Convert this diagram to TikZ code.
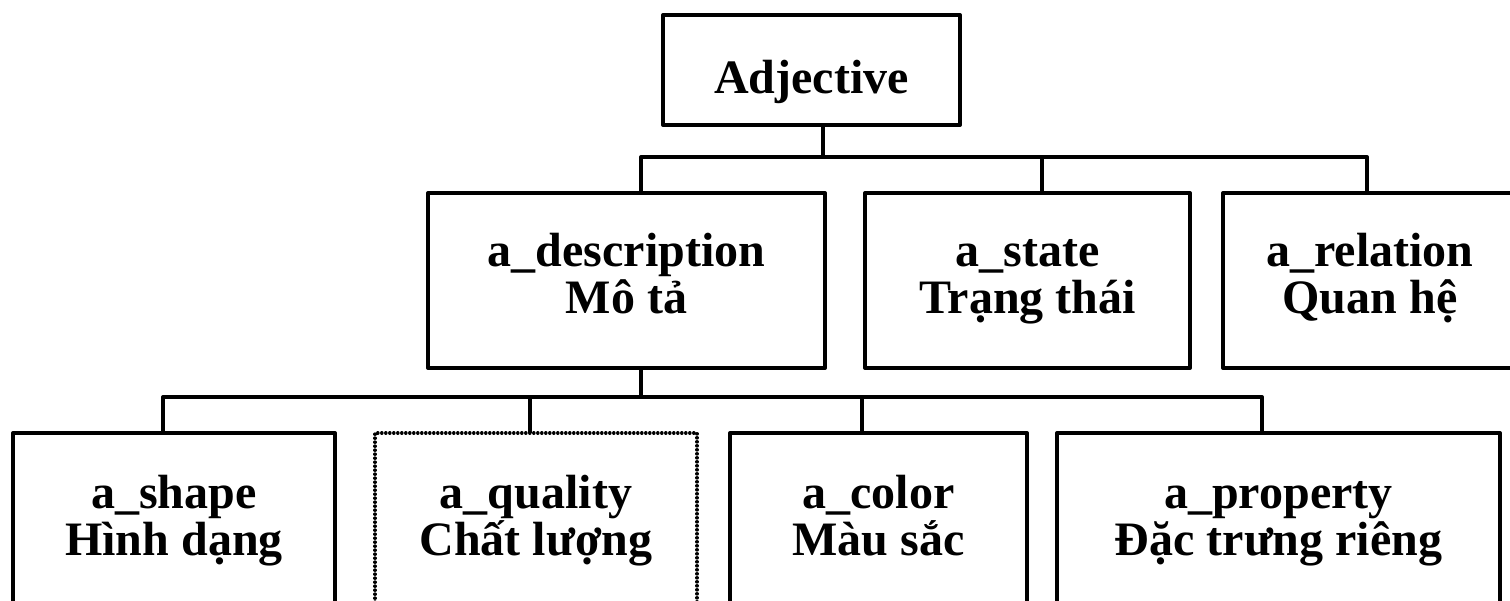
\documentclass[tikz,border=0pt]{standalone}
\usepackage{fontspec}
\setmainfont{Liberation Serif}
% two centred lines with a fixed distance between their baselines
\newcommand\twolines[2]{\vbox{\baselineskip=23.5pt\lineskiplimit=-50pt
  \halign{\hfil##\hfil\cr #1\cr #2\cr}}}
\tikzset{
  box/.style={draw, line width=2pt, rectangle, inner sep=0pt, outer sep=0pt,
    line join=round, text depth=6pt, text height=38.5pt,
    font=\fontsize{24}{23.5}\selectfont\bfseries},
  rootbox/.style={box, text height=29pt},
  lowbox/.style={box, text height=40.5pt},
  dotbox/.style={lowbox, dash pattern=on 0.2pt off 1.8pt, line cap=round, line width=1.6pt},
  conn/.style={line width=2pt, line join=round}
}
% style, name, x1, y1, x2, y2, text  (pixel-style units, y pointing down)
\newcommand\placebox[7]{%
  \node[#1, minimum width={(#5-#3)*0.5pt}, minimum height={(#6-#4)*0.5pt}]
    (#2) at ({(#3+#5)/2},{(#4+#6)/2}) {#7};}
\begin{document}
\begin{tikzpicture}[x=0.5pt, y=-0.5pt]
  \useasboundingbox (0,0) rectangle (1510,600);
  \clip (0,0) rectangle (1510,600);

  % root
  \placebox{rootbox}{adj}{663}{15}{960}{125}{Adjective}

  % first level
  \placebox{box}{desc}{428}{193}{825}{368}{\twolines{a\_description}{Mô tả}}
  \placebox{box}{state}{865}{193}{1190}{368}{\twolines{a\_state}{Trạng thái}}
  \placebox{box}{rel}{1223}{193}{1517}{368}{\twolines{a\_relation}{Quan hệ}}

  % second level
  \placebox{lowbox}{shape}{13}{433}{335}{608}{\twolines{a\_shape}{Hình dạng}}
  \placebox{dotbox}{qual}{375}{433}{697}{608}{\twolines{a\_quality}{Chất lượng}}
  \placebox{lowbox}{color}{730}{433}{1027}{608}{\twolines{a\_color}{Màu sắc}}
  \placebox{lowbox}{prop}{1057}{433}{1500}{608}{\twolines{a\_property}{Đặc trưng riêng}}

  % junctions of the upper bar
  \coordinate (u1) at (641,157);
  \coordinate (u2) at (823,157);
  \coordinate (u3) at (1042,157);
  \coordinate (u4) at (1367,157);
  \draw[conn] (adj.south -| u2) -- (u2);
  \draw[conn] (desc.north -| u1) -- (u1) -- (u4) -- (rel.north -| u4);
  \draw[conn] (state.north -| u3) -- (u3);

  % junctions of the lower bar
  \coordinate (l1) at (163,397);
  \coordinate (l2) at (530,397);
  \coordinate (l3) at (641,397);
  \coordinate (l4) at (862,397);
  \coordinate (l5) at (1262,397);
  \draw[conn] (desc.south -| l3) -- (l3);
  \draw[conn] (shape.north -| l1) -- (l1) -- (l5) -- (prop.north -| l5);
  \draw[conn] (qual.north -| l2) -- (l2);
  \draw[conn] (color.north -| l4) -- (l4);
\end{tikzpicture}
\end{document}
